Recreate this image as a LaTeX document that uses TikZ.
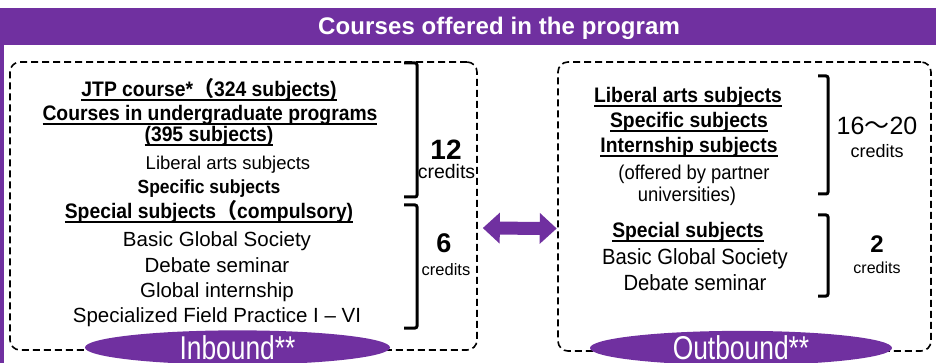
\documentclass[tikz,border=0pt]{standalone}
\usepackage{fontspec}
\setmainfont{Liberation Sans}
\newfontfamily\cjk{Noto Sans CJK JP}
\newfontfamily\narrowfont[FakeStretch=0.92]{Liberation Sans}
\newfontfamily\tagfont[FakeStretch=0.8]{Liberation Sans}
\newfontfamily\titlefont[LetterSpace=0.5]{Liberation Sans}
\newsavebox\ulinebox
\newcommand{\ulined}[1]{\sbox\ulinebox{#1}\rlap{\rule[-3.8pt]{\wd\ulinebox}{1.3pt}}\usebox\ulinebox}
\usetikzlibrary{shapes.geometric,arrows.meta}
\definecolor{tagpurple}{HTML}{7030A0}
\tikzset{>=latex,
  groupbox/.style={draw, line width=1.6pt, dash pattern=on 7pt off 4pt, rounded corners=10pt, inner sep=0pt},
  tag/.style={ellipse, fill=tagpurple, text=white, inner sep=0pt, font=\tagfont\fontsize{33}{33}\selectfont},
  exchange/.style={draw=tagpurple, line width=13pt, {Triangle[length=17pt,width=30pt]}-{Triangle[length=17pt,width=30pt]}},
  bracket/.style={line width=3pt, rounded corners=2pt},
  heading/.style={anchor=base, inner sep=0pt, text=white, font=\titlefont\bfseries\fontsize{24}{24}\selectfont},
  inhead/.style={anchor=base, inner sep=0pt, font=\narrowfont\bfseries\fontsize{21}{21}\selectfont},
  initem/.style={anchor=base, inner sep=0pt, font=\fontsize{20.5}{20.5}\selectfont},
  outhead/.style={anchor=base, inner sep=0pt, font=\narrowfont\bfseries\fontsize{21}{21}\selectfont},
  outitem/.style={anchor=base, inner sep=0pt, font=\narrowfont\fontsize{22}{22}\selectfont},
  amount/.style={anchor=base, inner sep=0pt, font=\bfseries\fontsize{28}{28}\selectfont},
  unit/.style={anchor=base, inner sep=0pt, font=\fontsize{19.5}{19.5}\selectfont}}

\begin{document}
\begin{tikzpicture}[x=1pt, y=-1pt]
    \clip (0,0) rectangle (936,363);

    \fill[tagpurple] (0,8) rectangle (936,45);
    \fill[tagpurple] (0,45) rectangle (4,363);
    \node[heading] at (499,35) (title) {Courses offered in the program};

    \node[groupbox, minimum width=467pt, minimum height=288pt] at (243.5,206) (inbox) {};
    \node[groupbox, minimum width=373pt, minimum height=289pt] at (744.5,206.5) (outbox) {};

    \draw[exchange, shorten <=5pt, shorten >=0.5pt] ([yshift=-22pt]inbox.east) -- ([yshift=-22pt]outbox.west);

    \node[inhead] at (209,97) (jtp) {\ulined{JTP course*{\cjk （}324 subjects)}};
    \node[inhead] at (210,121) (undergrad) {\ulined{Courses in undergraduate programs}};
    \node[inhead] at (209,142) (undergradnum) {\ulined{(395 subjects)}};
    \node[initem, font=\fontsize{18.5}{18.5}\selectfont] at (228,170) (inliberal) {Liberal arts subjects};
    \node[inhead, font=\narrowfont\bfseries\fontsize{19}{19}\selectfont] at (209,194) (inspecific) {Specific subjects};
    \node[inhead] at (209,219) (inspecial) {\ulined{Special subjects{\cjk （}compulsory)}};
    \node[initem] at (217,247) (inbasic) {Basic Global Society};
    \node[initem] at (217,272) (indebate) {Debate seminar};
    \node[initem] at (217,297) (ininternship) {Global internship};
    \node[initem] at (217,322) (infield) {Specialized Field Practice I -- VI};

    \draw[bracket] (404,63) -- (417,63) -- (417,197) -- (404,197);
    \draw[bracket] (404,205) -- (417,205) -- (417,328) -- (404,328);
    \node[amount] at (446,160) (inamount) {12};
    \node[unit] at (446.5,179) (inunit) {credits};
    \node[amount, font=\bfseries\fontsize{27}{27}\selectfont] at (444,252) (specialamount) {6};
    \node[unit, font=\fontsize{16.5}{16.5}\selectfont] at (446,275) (specialunit) {credits};

    \node[outhead] at (688,103) (outliberal) {\ulined{Liberal arts subjects}};
    \node[outhead] at (689,128) (outspecific) {\ulined{Specific subjects}};
    \node[outhead] at (689,153) (outinternship) {\ulined{Internship subjects}};
    \node[outitem, font=\narrowfont\fontsize{20}{20}\selectfont] at (694,180) (partner) {(offered by partner};
    \node[outitem, font=\narrowfont\fontsize{20}{20}\selectfont] at (687,202) (universities) {universities)};
    \node[outhead] at (688,238) (outspecial) {\ulined{Special subjects}};
    \node[outitem] at (695,264) (outbasic) {Basic Global Society};
    \node[outitem] at (695,290) (outdebate) {Debate seminar};

    \draw[bracket] (818,76) -- (828,76) -- (828,194) -- (818,194);
    \draw[bracket] (818,215) -- (828,215) -- (828,296) -- (818,296);
    \node[amount, font=\fontsize{25}{25}\selectfont] at (877,135) (outamount) {16{\cjk ～}20};
    \node[unit, font=\fontsize{18}{18}\selectfont] at (877,158) (outunit) {credits};
    \node[amount, font=\bfseries\fontsize{24}{24}\selectfont] at (877,252) (outspecialamount) {2};
    \node[unit, font=\fontsize{16}{16}\selectfont] at (877,273) (outspecialunit) {credits};

    \node[tag, minimum width=305pt, minimum height=31pt] at (237.5,347.5) (inbound) {Inbound**};
    \node[tag, minimum width=302pt, minimum height=31pt] at (741,348) (outbound) {Outbound**};

\end{tikzpicture}
\end{document}
